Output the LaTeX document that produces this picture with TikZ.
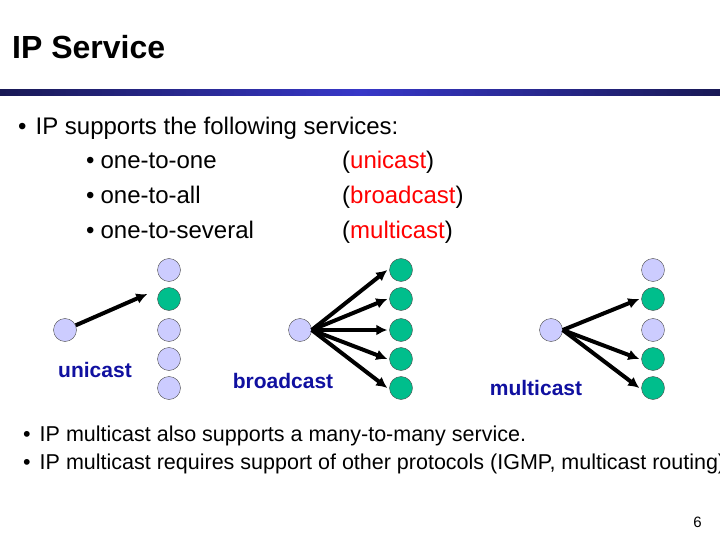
\documentclass[tikz,border=0pt]{standalone}
\usepackage{fontspec}
\setmainfont{Liberation Sans}
\usetikzlibrary{arrows.meta}
\begin{document}
\begin{tikzpicture}[x=1pt,y=-1pt,
  lav/.style={circle,draw=black!70,fill=lavblue,minimum size=23pt,inner sep=0pt},
  grn/.style={circle,draw=black!70,fill=nodegreen,minimum size=23pt,inner sep=0pt},
  lbl/.style={text=labblue,font=\fontsize{21}{24}\selectfont\bfseries},
  txt/.style={anchor=base west,font=\fontsize{24}{28}\selectfont,inner sep=0pt},
  txt2/.style={anchor=base west,font=\fontsize{21.5}{25}\selectfont,inner sep=0pt},
  arr/.style={line width=4pt,-{Latex[length=11pt,width=11pt]}},
  ]
\definecolor{lavblue}{RGB}{204,204,255}
\definecolor{nodegreen}{RGB}{0,190,140}
\definecolor{labblue}{RGB}{16,16,160}
\definecolor{barnavy}{RGB}{25,25,85}
\definecolor{barblue}{RGB}{55,55,200}
\useasboundingbox (0,0) rectangle (720,540);
\fill[white] (0,0) rectangle (720,540);
\node[anchor=base west,inner sep=0pt,font=\fontsize{32}{36}\selectfont\bfseries] (title) at (12,59) {IP Service};
\shade[left color=barnavy,right color=barnavy,middle color=barblue] (0,90) rectangle (720,96);
\node[txt] (b1) at (18,135) {•\hspace{9pt}IP supports the following services:};
\node[txt] (s1) at (86,169) {•\hspace{6pt}one-to-one};
\node[txt] (s2) at (86,204) {•\hspace{6pt}one-to-all};
\node[txt] (s3) at (86,239) {•\hspace{6pt}one-to-several};
\node[txt] (p1) at (342,169) {(\textcolor{red}{unicast})};
\node[txt] (p2) at (342,204) {(\textcolor{red}{broadcast})};
\node[txt] (p3) at (342,239) {(\textcolor{red}{multicast})};
% unicast
\node[lav] (us) at (65,330) {};
\node[lav] (u1) at (169,270) {};
\node[grn] (u2) at (169,299) {};
\node[lav] (u3) at (169,330) {};
\node[lav] (u4) at (169,359) {};
\node[lav] (u5) at (169,388) {};
\draw[arr] (us) -- ([xshift=-10pt,yshift=5pt]u2.west);
\node[lbl] (ul) at (95,370) {unicast};
% broadcast
\node[lav] (bs) at (300,330) {};
\foreach \i/\y in {1/270,2/299,3/330,4/359,5/388}{
  \node[grn] (b\i) at (401,\y) {};
  \draw[arr] (bs.east) -- ([xshift=-2pt]b\i.west);
}
\node[lbl] (bl) at (283,381) {broadcast};
% multicast
\node[lav] (ms) at (551,330) {};
\node[lav] (m1) at (653,270) {};
\node[grn] (m2) at (653,299) {};
\node[lav] (m3) at (653,330) {};
\node[grn] (m4) at (653,359) {};
\node[grn] (m5) at (653,388) {};
\foreach \i in {2,4,5}{\draw[arr] (ms.east) -- ([xshift=-2pt]m\i.west);}
\node[lbl] (ml) at (536,388) {multicast};
% bottom
\node[txt2] (c1) at (23,441) {•\hspace{9pt}IP multicast also supports a many-to-many service.};
\node[txt2] (c2) at (23,469) {•\hspace{9pt}IP multicast requires support of other protocols (IGMP, multicast routing)};
\node[anchor=base east,inner sep=0pt,font=\fontsize{15}{17}\selectfont] (pg) at (702,527) {6};
\end{tikzpicture}
\end{document}
